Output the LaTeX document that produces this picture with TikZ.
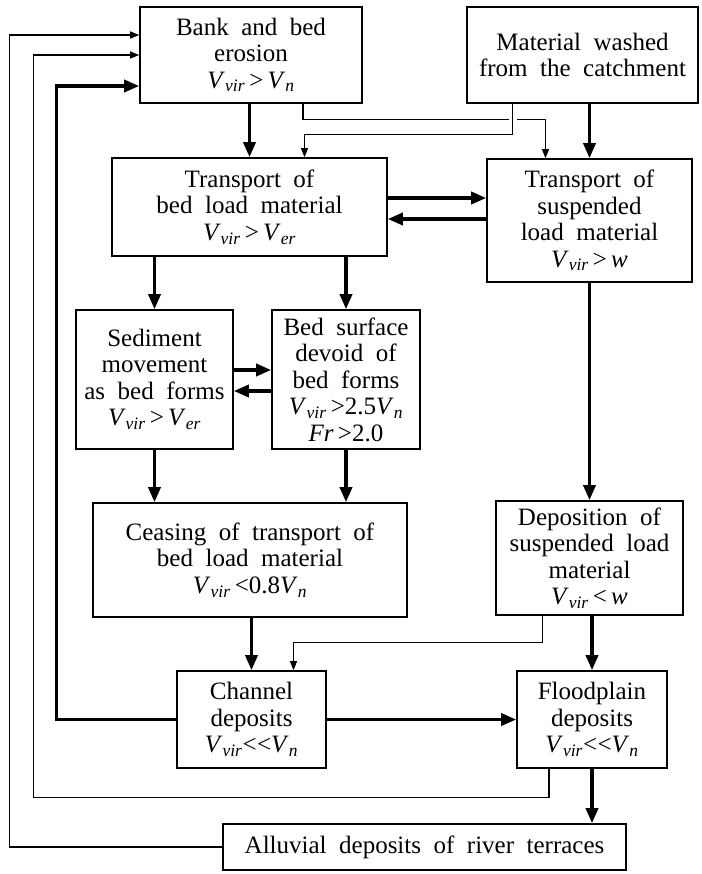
\documentclass[tikz,border=0pt]{standalone}
\usepackage{fontspec}
\setmainfont{Liberation Serif}
\usetikzlibrary{arrows.meta,calc,positioning}
\newcommand{\vsub}[2]{\textit{#1}\textsubscript{\textit{#2}}}
\newcommand{\muchless}{\mbox{<}\kern.5pt\mbox{<}}
\newcommand{\widespace}{\spaceskip=.5em plus .1em minus .05em\relax}
\tikzset{
	box/.style={draw,line width=1.6pt,align=center,inner sep=2pt,font=\fontsize{25}{26.5}\selectfont,execute at begin node=\widespace},
	flow/.style={line width=3.4pt,-{Triangle[length=15pt,width=12pt]}},
	link/.style={line width=1.2pt,-{Triangle[length=9pt,width=7pt]}},
}

\begin{document}
\begin{tikzpicture}[x=1pt,y=1pt]
	\useasboundingbox (0,0) rectangle (701,-874);
	\node [box,minimum width=222pt,minimum height=96pt] (bank) at (251,-55) {Bank and bed\\erosion\\\vsub{V}{vir}\,>\,\vsub{V}{n}};
	\node [box,minimum width=231pt,minimum height=96pt] (material) at (582.5,-55) {Material washed\\from the catchment};
	\node [box,minimum width=275pt,minimum height=98pt] (bedload) at (249.5,-207) {Transport of\\bed load material\\\vsub{V}{vir}\,>\,\vsub{V}{er}};
	\node [box,minimum width=205pt,minimum height=123pt] (susp) at (589.5,-220.5) {Transport of\\suspended\\load material\\\vsub{V}{vir}\,>\,\textit{w}};
	\node [box,minimum width=157pt,minimum height=139pt] (sedim) at (154.5,-379.5) {Sediment\\movement\\as bed forms\\\vsub{V}{vir}\,>\,\vsub{V}{er}};
	\node [box,minimum width=148pt,minimum height=139pt] (devoid) at (346,-379.5) {Bed surface\\devoid of\\bed forms\\\vsub{V}{vir}\,>2.5\vsub{V}{n}\\\textit{Fr}\,>2.0};
	\node [box,minimum width=314pt,minimum height=114pt] (ceasing) at (250,-560) {Ceasing of transport of\\bed load material\\\vsub{V}{vir}\,<0.8\vsub{V}{n}};
	\node [box,minimum width=187pt,minimum height=114pt] (deposition) at (589.5,-558) {Deposition of\\suspended load\\material\\\vsub{V}{vir}\,<\,\textit{w}};
	\node [box,minimum width=149pt,minimum height=97pt] (channel) at (251.5,-719.5) {Channel\\deposits\\\vsub{V}{vir}\muchless\vsub{V}{n}};
	\node [box,minimum width=150pt,minimum height=97pt] (floodplain) at (592,-719.5) {Floodplain\\deposits\\\vsub{V}{vir}\muchless\vsub{V}{n}};
	\node [box,minimum width=403pt,minimum height=46pt] (alluvial) at (424.5,-847) {Alluvial deposits of river terraces};
	\draw [flow] (bedload.north |- bank.south) -- (bedload.north);
	\draw [flow] (susp.north |- material.south) -- (susp.north);
	\draw [link] ($(bank.south)+(52,0)$) |- ($(susp.north)+(-44,39)$) -- ($(susp.north)+(-44,0)$);
	\fill [white] ($(material.south)+(-74,-19.5)$) rectangle ++(8,5);
	\draw [link] ($(material.south)+(-70,0)$) |- ($(bedload.north)+(55,23)$) -- ($(bedload.north)+(55,0)$);
	\draw [flow] ($(bedload.east)+(0,9)$) -- ($(susp.west |- bedload.east)+(0,9)$);
	\draw [flow] ($(susp.west |- bedload.east)+(0,-12)$) -- ($(bedload.east)+(0,-12)$);
	\draw [flow] (sedim.north |- bedload.south) -- (sedim.north);
	\draw [flow] (devoid.north |- bedload.south) -- (devoid.north);
	\draw [flow] ($(sedim.east)+(0,9.5)$) -- ($(devoid.west |- sedim.east)+(0,9.5)$);
	\draw [flow] ($(devoid.west |- sedim.east)+(0,-11.5)$) -- ($(sedim.east)+(0,-11.5)$);
	\draw [flow] (susp.south) -- (deposition.north);
	\draw [flow] (sedim.south) -- (sedim.south |- ceasing.north);
	\draw [flow] (devoid.south) -- (devoid.south |- ceasing.north);
	\draw [flow] (channel.north |- ceasing.south) -- (channel.north);
	\draw [link] ($(deposition.south)+(-47,0)$) |- ($(channel.north)+(42,28)$) -- ($(channel.north)+(42,0)$);
	\draw [flow] (floodplain.north |- deposition.south) -- (floodplain.north);
	\draw [flow] (channel.east) -- (floodplain.west);
	\draw [flow] (floodplain.south) -- (floodplain.south |- alluvial.north);
	\draw [flow] (channel.west) -| ($(bank.west)+(-83,-31)$) -- ($(bank.west)+(0,-31)$);
	\draw [link] ($(floodplain.south)+(-43,0)$) -- ++(0,-29) -| ($(bank.west)+(-106,0)$) -- (bank.west);
	\draw [link] (alluvial.west) -| ($(bank.west)+(-130,20)$) -- ($(bank.west)+(0,20)$);
\end{tikzpicture}
\end{document}
